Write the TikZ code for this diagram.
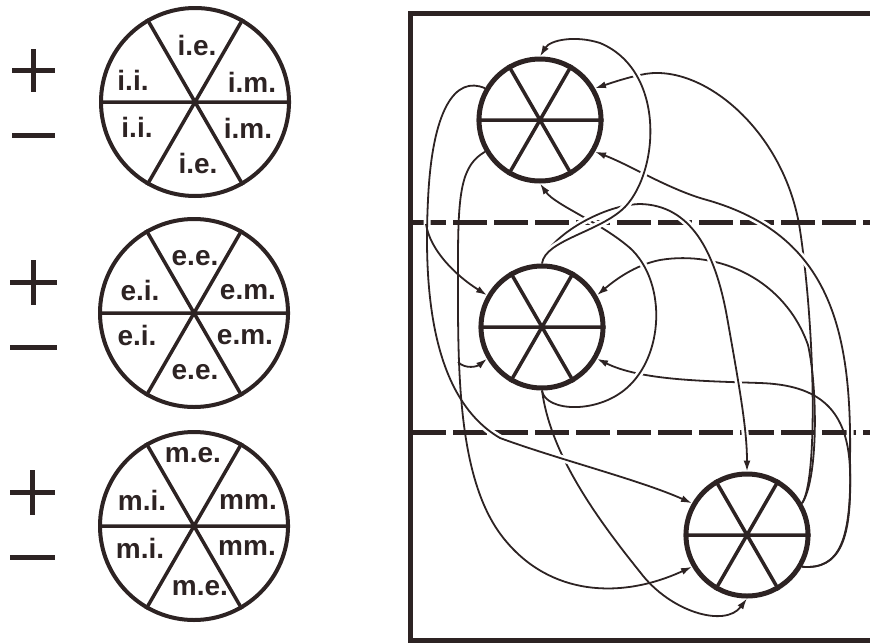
\documentclass[tikz,border=0pt]{standalone}
\usepackage{fontspec}
\setmainfont{Liberation Sans}
\usetikzlibrary{arrows.meta}
\definecolor{ink}{RGB}{45,35,35}
\pgfdeclarelayer{bg}
\pgfsetlayers{bg,main}
\begin{document}
\begin{tikzpicture}[x=1pt,y=-1pt,
  lab/.style={font=\fontsize{28}{28}\selectfont\bfseries, text=ink, inner sep=0pt},
  wheel/.style={circle, draw=ink, line width=4pt, minimum size=188pt, inner sep=0pt},
  hub/.style={circle, draw=ink, line width=5pt, minimum size=122pt, inner sep=0pt},
  spoke/.style={draw=ink, line width=3.5pt},
  link/.style={draw=ink, line width=1.8pt, -{Latex[length=11pt,width=7pt]}},
  halo/.style={preaction={draw=white, line width=7pt, -}},
  frame/.style={draw=ink, line width=5pt},
  sep/.style={draw=ink, line width=5pt, dash pattern=on 34pt off 7pt},
  sign/.style={draw=ink, line width=5pt}
]
\useasboundingbox (0,0) rectangle (870,643);

% ---- left legend wheels ----
\node[wheel] (L1) at (195,102) {};
\node[wheel] (L2) at (194,313) {};
\node[wheel] (L3) at (194,526) {};
\foreach \w in {L1,L2,L3}{
  \draw[spoke] (\w.60) -- (\w.240) (\w.120) -- (\w.300) (\w.0) -- (\w.180);
}
\node[lab] (t11) at (197,45) {i.e.};
\node[lab] (t12) at (133,80) {i.i.};
\node[lab] (t13) at (252,82) {i.m.};
\node[lab] (t14) at (137,127) {i.i.};
\node[lab] (t15) at (248,128) {i.m.};
\node[lab] (t16) at (198,163) {i.e.};

\node[lab] (t21) at (195,258) {e.e.};
\node[lab] (t22) at (140,290) {e.i.};
\node[lab] (t23) at (248,292) {e.m.};
\node[lab] (t24) at (137,335) {e.i.};
\node[lab] (t25) at (245,337) {e.m.};
\node[lab] (t26) at (195,372) {e.e.};

\node[lab] (t31) at (193,455) {m.e.};
\node[lab] (t32) at (142,500) {m.i.};
\node[lab] (t33) at (248,502) {mm.};
\node[lab] (t34) at (140,548) {m.i.};
\node[lab] (t35) at (247,548) {mm.};
\node[lab] (t36) at (200,588) {m.e.};

% plus / minus signs
\draw[sign] (12,70) -- (55,70) (33.5,49) -- (33.5,92);
\draw[sign] (12,135) -- (55,135);
\draw[sign] (10,282) -- (57,282) (33.5,260) -- (33.5,305);
\draw[sign] (10,347) -- (57,347);
\draw[sign] (10,492) -- (55,492) (32.5,470) -- (32.5,515);
\draw[sign] (10,557) -- (55,557);

% hubs
\node[hub] (A) at (540,120) {};
\node[hub] (B) at (542,327) {};
\node[hub] (C) at (747,535) {};
\foreach \w in {A,B,C}{
  \draw[spoke] (\w.60) -- (\w.240) (\w.120) -- (\w.300) (\w.0) -- (\w.180);
}
\coordinate (s1) at (426,224);
\coordinate (s2) at (458,362);

\begin{pgfonlayer}{bg}
% ---- right panel frame ----
\draw[frame] (870,13) -- (410,13) -- (410,640) -- (870,640);
\draw[sep] (412,222) -- (870,222);
\draw[sep] (412,432) -- (870,432);

% connectors (later ones pass over earlier ones)
\draw[link] (C.30) .. controls (818,480) and (815,330) .. (800,230) .. controls (785,130) and (700,60) .. (640,75) .. controls (625,78) and (605,85) .. (A.30);
\draw[link] (C.30) .. controls (818,480) and (818,390) .. (808,345) .. controls (785,280) and (720,250) .. (660,260) .. controls (635,265) and (615,280) .. (B.30);
\draw[link,halo] (C.330) .. controls (840,570) and (852,540) .. (850,460) .. controls (852,330) and (830,235) .. (707,200) .. controls (670,190) and (630,165) .. (A.330);
\draw[link] (C.330) .. controls (840,570) and (852,540) .. (850,470) .. controls (848,410) and (820,385) .. (760,383) .. controls (700,381) and (640,380) .. (B.330);
\draw[link,halo] (B.270) .. controls (545,412) and (600,415) .. (630,385) .. controls (665,350) and (665,280) .. (630,248) .. controls (600,222) and (555,205) .. (A.270);
\draw[link] (B.270) .. controls (550,450) and (590,510) .. (640,572) .. controls (670,612) and (725,628) .. (C.270);
\draw[link,halo] (B.90) .. controls (545,240) and (600,205) .. (640,204) .. controls (690,205) and (715,250) .. (727,317) .. controls (740,390) and (747,430) .. (C.90);
\draw[link,halo] (B.90) .. controls (545,240) and (600,232) .. (625,207) .. controls (660,170) and (665,70) .. (600,43) .. controls (575,35) and (550,40) .. (A.90);
\draw[link,halo] (A.150) .. controls (455,75) and (432,110) .. (428,200) .. controls (423,300) and (435,400) .. (500,438) .. controls (560,460) and (640,480) .. (C.150);
\draw[link] (A.210) .. controls (462,165) and (458,190) .. (458,260) .. controls (458,360) and (455,480) .. (505,540) .. controls (550,595) and (620,600) .. (C.210);
\draw[link] (s1) .. controls (430,250) and (455,275) .. (B.150);
\draw[link] (s2) .. controls (466,370) and (478,366) .. (B.210);
\end{pgfonlayer}
\end{tikzpicture}
\end{document}
